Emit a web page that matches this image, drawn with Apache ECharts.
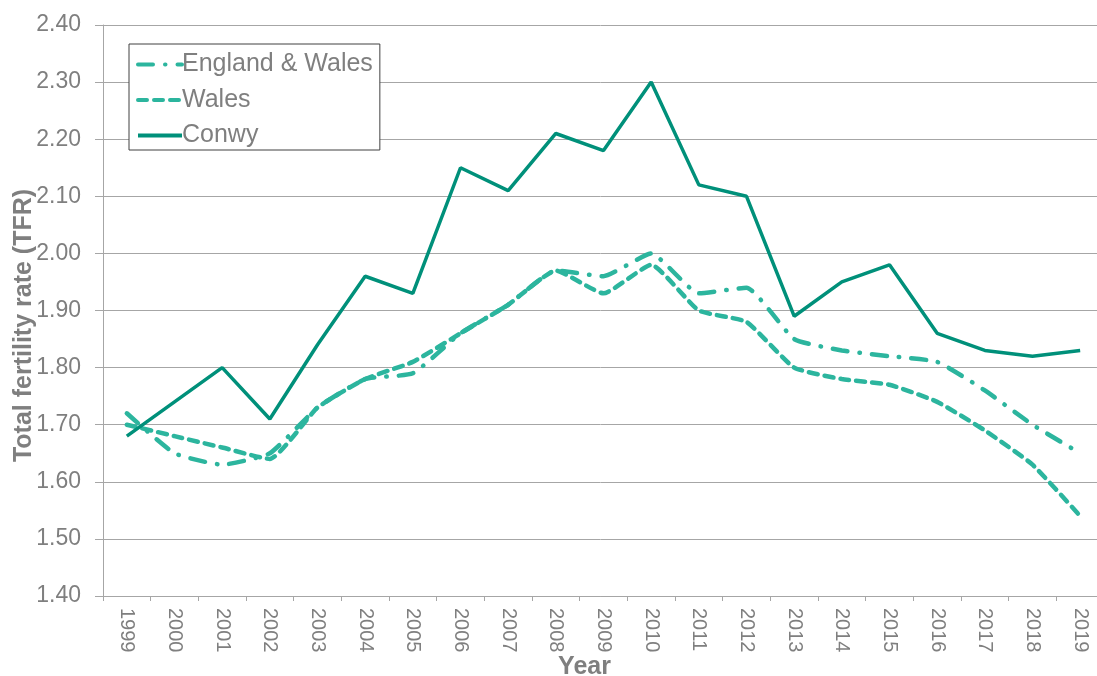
<!DOCTYPE html>
<html><head><meta charset="utf-8">
<script src="https://cdn.jsdelivr.net/npm/echarts@6/dist/echarts.min.js"></script>
<style>html,body{margin:0;padding:0;background:#fff}#c{width:1097px;height:676px}</style>
</head><body><div id="c"></div>
<script>
const years = ['1999','2000','2001','2002','2003','2004','2005','2006','2007','2008','2009','2010','2011','2012','2013','2014','2015','2016','2017','2018','2019'];
const englandWales = [1.72,1.65,1.63,1.65,1.73,1.78,1.79,1.86,1.91,1.97,1.96,2.00,1.93,1.94,1.85,1.83,1.82,1.81,1.76,1.70,1.65];
const wales = [1.70,1.68,1.66,1.64,1.73,1.78,1.81,1.86,1.91,1.97,1.93,1.98,1.90,1.88,1.80,1.78,1.77,1.74,1.69,1.63,1.54];
const conwy = [1.68,1.74,1.80,1.71,1.84,1.96,1.93,2.15,2.11,2.21,2.18,2.30,2.12,2.10,1.89,1.95,1.98,1.86,1.83,1.82,1.83];
const seriesNames = ['England & Wales','Wales','Conwy'];

const grey = '#7f7f7f';
const light = '#2cb59e';
const dark = '#00907a';
const chart = echarts.init(document.getElementById('c'));
chart.setOption({
  animation:false,
  grid:{left:103, top:25, width:1001, height:571, containLabel:false, outerBoundsMode:'none'},
  legend:{
    orient:'vertical', left:129, top:44, width:252,
    padding:[8,7,2,7], itemGap:10.5,
    borderColor:'#404040', borderWidth:1, backgroundColor:'#fff',
    itemWidth:44, itemHeight:25,
    itemStyle:{opacity:0},
    lineStyle:{width:4},
    textStyle:{fontFamily:'Liberation Sans, Arial', fontSize:25, color:grey, padding:[0,0,0,-5]},
    data:seriesNames
  },
  xAxis:{
    type:'category', data:years, boundaryGap:true,
    name:'Year', nameLocation:'middle', nameGap:59, nameMoveOverlap:false,
    nameTextStyle:{fontFamily:'Liberation Sans, Arial', fontSize:25, fontWeight:'bold', color:grey, padding:[0,38,0,0]},
    axisLine:{lineStyle:{color:'#a6a6a6', width:1}},
    axisTick:{show:true, length:5, lineStyle:{color:'#a6a6a6'}},
    axisLabel:{rotate:-90, fontFamily:'Liberation Sans, Arial', fontSize:20, color:grey, margin:12, interval:0}
  },
  yAxis:{
    type:'value', min:1.4, max:2.4, interval:0.1,
    name:'Total fertility rate (TFR)', nameLocation:'middle', nameGap:66, nameMoveOverlap:false,
    nameTextStyle:{fontFamily:'Liberation Sans, Arial', fontSize:25, fontWeight:'bold', color:grey, padding:[0,30,0,0]},
    axisLine:{show:true, lineStyle:{color:'#a6a6a6', width:1}},
    axisTick:{show:true, length:8, lineStyle:{color:'#a6a6a6'}},
    splitLine:{lineStyle:{color:'#a6a6a6', width:1}},
    axisLabel:{formatter:v=>v.toFixed(2), fontFamily:'Liberation Sans, Arial', fontSize:23, color:grey, margin:22}
  },
  series:[
    {name:seriesNames[0], type:'line', data:englandWales, symbol:'none', smooth:0.15,
      lineStyle:{color:light, width:4.5, type:[15,12,0.5,12], cap:'round'}, itemStyle:{color:light}},
    {name:seriesNames[1], type:'line', data:wales, symbol:'none', smooth:0.15,
      lineStyle:{color:light, width:4.5, type:[9,7], cap:'round'}, itemStyle:{color:light}},
    {name:seriesNames[2], type:'line', data:conwy, symbol:'none',
      lineStyle:{color:dark, width:3.5}, itemStyle:{color:dark}}
  ]
});
</script></body></html>
